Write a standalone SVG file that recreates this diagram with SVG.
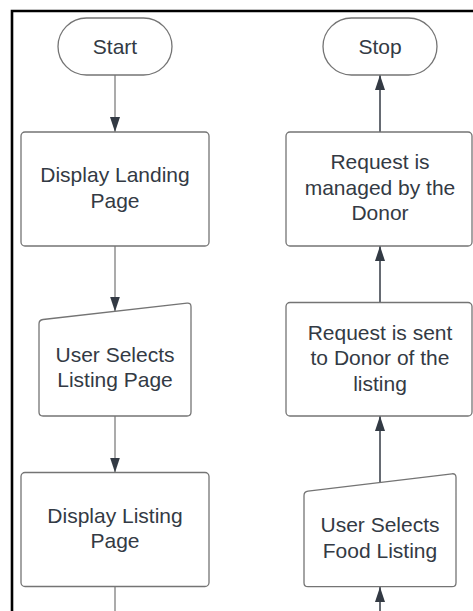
<svg xmlns="http://www.w3.org/2000/svg" width="473" height="611" viewBox="0 0 473 611">
<style>
.shape{fill:#fff;stroke:#747474;stroke-width:1.3}
.lbl{font-family:"Liberation Sans",Arial,sans-serif;font-size:21px;fill:#333a44;text-anchor:middle}
.conL{fill:none;stroke:#666;stroke-width:1.1}
.conR{fill:none;stroke:#333a44;stroke-width:1.5}
.frame{fill:none;stroke:#000;stroke-width:2.6}
</style>
<defs>
<marker id="arrow" viewBox="0 0 15 10" refX="15" refY="5" markerWidth="15" markerHeight="10" markerUnits="userSpaceOnUse" orient="auto">
<path d="M0,0 L15,5 L0,10 Z" fill="#333a44"/>
</marker>
</defs>
<rect width="473" height="611" fill="#fff"/>
<path class="frame" d="M12,611 L12,11 L473,11"/>

<g id="connectors">
<path class="conL" d="M115,75 L115,132" marker-end="url(#arrow)"/>
<path class="conL" d="M115,246 L115,311.5" marker-end="url(#arrow)"/>
<path class="conL" d="M115,416 L115,472.5" marker-end="url(#arrow)"/>
<path class="conL" d="M115,587 L115,611"/>
<path class="conR" d="M380,611 L380,587" marker-end="url(#arrow)"/>
<path class="conR" d="M380,482.5 L380,416" marker-end="url(#arrow)"/>
<path class="conR" d="M380,302.5 L380,246" marker-end="url(#arrow)"/>
<path class="conR" d="M380,132 L380,75" marker-end="url(#arrow)"/>
</g>

<g id="start">
<rect class="shape" x="58" y="18" width="114" height="57" rx="28.5"/>
<text class="lbl" x="115" y="53.5">Start</text>
</g>

<g id="display-landing">
<rect class="shape" x="21" y="132" width="188" height="114" rx="4"/>
<text class="lbl" x="115" y="182">Display Landing</text>
<text class="lbl" x="115" y="207.5">Page</text>
</g>

<g id="user-selects-listing">
<path class="shape" d="M43,319.5 L187,303.2 Q191,302.7 191,306.7 L191,412 Q191,416 187,416 L43,416 Q39,416 39,412 L39,324 Q39,320 43,319.5 Z"/>
<text class="lbl" x="115" y="361.5">User Selects</text>
<text class="lbl" x="115" y="387">Listing Page</text>
</g>

<g id="display-listing">
<rect class="shape" x="21" y="472.5" width="188" height="114" rx="4"/>
<text class="lbl" x="115" y="522.5">Display Listing</text>
<text class="lbl" x="115" y="548">Page</text>
</g>

<g id="stop">
<rect class="shape" x="323" y="18" width="114" height="57" rx="28.5"/>
<text class="lbl" x="380" y="53.5">Stop</text>
</g>

<g id="request-managed">
<rect class="shape" x="286" y="132" width="186" height="114" rx="4"/>
<text class="lbl" x="380" y="169">Request is</text>
<text class="lbl" x="380" y="194.5">managed by the</text>
<text class="lbl" x="380" y="220">Donor</text>
</g>

<g id="request-sent">
<rect class="shape" x="286" y="302.5" width="186" height="113.5" rx="4"/>
<text class="lbl" x="380" y="339.5">Request is sent</text>
<text class="lbl" x="380" y="365">to Donor of the</text>
<text class="lbl" x="380" y="390.5">listing</text>
</g>

<g id="user-selects-food">
<path class="shape" d="M308,491.2 L452,473.8 Q456,473.3 456,477.3 L456,582.7 Q456,586.7 452,586.7 L308,586.7 Q304,586.7 304,582.7 L304,495.7 Q304,491.7 308,491.2 Z"/>
<text class="lbl" x="380" y="532">User Selects</text>
<text class="lbl" x="380" y="557.5">Food Listing</text>
</g>
</svg>
